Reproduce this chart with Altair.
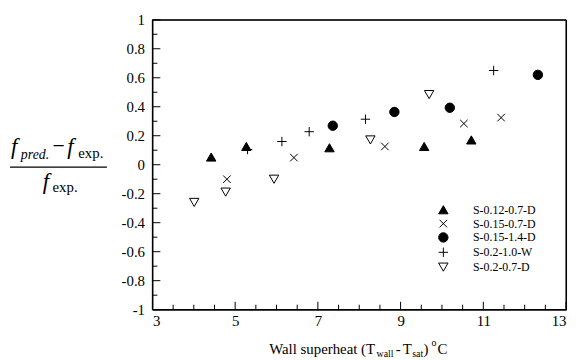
import altair as alt
import pandas as pd

# ---------------- data ----------------
series_names = ["S-0.12-0.7-D", "S-0.15-0.7-D", "S-0.15-1.4-D", "S-0.2-1.0-W", "S-0.2-0.7-D"]

s1_x = [4.42, 5.27, 7.28, 9.57, 10.71]
s1_y = [0.053, 0.126, 0.117, 0.126, 0.171]

s2_x = [4.80, 6.42, 8.62, 10.53, 11.43]
s2_y = [-0.100, 0.049, 0.126, 0.284, 0.325]

s3_x = [7.36, 8.85, 10.19, 12.32]
s3_y = [0.269, 0.364, 0.393, 0.620]

s4_x = [5.30, 6.13, 6.79, 8.15, 11.25]
s4_y = [0.105, 0.160, 0.228, 0.314, 0.650]

s5_x = [4.01, 4.77, 5.94, 8.27, 9.69]
s5_y = [-0.260, -0.189, -0.100, 0.171, 0.484]

x_labels = [3, 5, 7, 9, 11, 13]
x_minor = [3.5, 4, 4.5, 5.5, 6, 6.5, 7.5, 8, 8.5, 9.5, 10, 10.5, 11.5, 12, 12.5]
y_labels = [-1, -0.8, -0.6, -0.4, -0.2, 0, 0.2, 0.4, 0.6, 0.8, 1]
y_minor = [-0.9, -0.7, -0.5, -0.3, -0.1, 0.1, 0.3, 0.5, 0.7, 0.9]
x_edges = [3, 13]
y_edges = [-1, 1]

shapes = ["triangle-up", "M-0.8,-0.8L0.8,0.8M-0.8,0.8L0.8,-0.8", "circle",
          "M-1,0L1,0M0,-1L0,1", "triangle-down"]
fills = ["black", "transparent", "black", "transparent", "transparent"]
strokes = ["black"] * 5

rows = []
for name, xs, ys in zip(series_names, [s1_x, s2_x, s3_x, s4_x, s5_x],
                        [s1_y, s2_y, s3_y, s4_y, s5_y]):
    for a, b in zip(xs, ys):
        rows.append({"series": name, "x": a, "y": b})
df = pd.DataFrame(rows)

W, H = 418, 293
FONT = "Liberation Serif"

xscale = alt.Scale(domain=[3, 13], nice=False, zero=False)
yscale = alt.Scale(domain=[-1, 1], nice=False, zero=False)

xaxis = alt.Axis(values=x_labels, ticks=False, domain=False, grid=False,
                 labelFont=FONT, labelFontSize=15, labelColor="black",
                 labelPadding=4, title=None, format="d", labelOverlap=False)
yaxis = alt.Axis(values=y_labels, ticks=False, domain=False, grid=False,
                 labelFont=FONT, labelFontSize=15, labelColor="black",
                 labelPadding=8, title=None, labelOverlap=False,
                 labelExpr="toString(datum.value)")

legend = alt.Legend(
    title=None, orient="none", legendX=288, legendY=186, padding=0,
    labelFont=FONT, labelFontSize=12, labelColor="black", labelOffset=24,
    symbolSize=90, symbolStrokeColor="black", symbolStrokeWidth=1,
    rowPadding=1,
)

points = alt.Chart(df).mark_point(size=90, strokeWidth=1, opacity=1).encode(
    x=alt.X("x:Q", scale=xscale, axis=xaxis),
    y=alt.Y("y:Q", scale=yscale, axis=yaxis),
    shape=alt.Shape("series:N", scale=alt.Scale(domain=series_names, range=shapes),
                    legend=legend, sort=None),
    fill=alt.Fill("series:N", scale=alt.Scale(domain=series_names, range=fills),
                  legend=legend, sort=None),
    stroke=alt.Stroke("series:N", scale=alt.Scale(domain=series_names, range=strokes),
                      legend=legend, sort=None),
)

# inward ticks
xmaj = alt.Chart(pd.DataFrame({"v": x_labels})).mark_rule(color="black", strokeWidth=1).encode(
    x=alt.X("v:Q", scale=xscale, axis=xaxis), y=alt.value(H), y2=alt.value(H - 8))
xmin = alt.Chart(pd.DataFrame({"v": x_minor})).mark_rule(color="black", strokeWidth=1).encode(
    x=alt.X("v:Q", scale=xscale, axis=xaxis), y=alt.value(H), y2=alt.value(H - 5))
ymaj = alt.Chart(pd.DataFrame({"v": y_labels})).mark_rule(color="black", strokeWidth=1).encode(
    y=alt.Y("v:Q", scale=yscale, axis=yaxis), x=alt.value(0), x2=alt.value(8))
ymin = alt.Chart(pd.DataFrame({"v": y_minor})).mark_rule(color="black", strokeWidth=1).encode(
    y=alt.Y("v:Q", scale=yscale, axis=yaxis), x=alt.value(0), x2=alt.value(5))

# plot frame drawn through the scales, like the ticks
frame_v = alt.Chart(pd.DataFrame({"v": x_edges})).mark_rule(color="black", strokeWidth=1.2).encode(
    x=alt.X("v:Q", scale=xscale, axis=xaxis), y=alt.value(0.01), y2=alt.value(H))
frame_h = alt.Chart(pd.DataFrame({"w": y_edges})).mark_rule(color="black", strokeWidth=1.2).encode(
    y=alt.Y("w:Q", scale=yscale, axis=yaxis), x=alt.value(0.01), x2=alt.value(W))

OX, OY = 154, 18  # plot origin on page


def txt(s, ax, ay, size, style="normal", align="left"):
    return alt.Chart(pd.DataFrame({"t": [s]})).mark_text(
        font=FONT, fontSize=size, fontStyle=style, align=align,
        baseline="alphabetic", color="black"
    ).encode(x=alt.value(ax - OX), y=alt.value(ay - OY), text="t:N")


# x-axis title: Wall superheat (T_wall - T_sat) °C
xt = [
    txt("Wall superheat (T", 272, 356, 15),
    txt("wall", 380.5, 359, 10),
    txt("-", 400, 356, 15),
    txt("T", 407, 356, 15),
    txt("sat", 416.5, 359, 10),
    txt(")", 428, 356, 15),
    txt("o", 436, 348, 10),
    txt("C", 442, 356, 15),
]

# y-axis title: (f_pred. - f_exp.) / f_exp.
yt = [
    txt("f", 11, 154, 23, "italic"),
    txt("pred.", 21, 159, 14, "italic"),
    txt("\u2212", 53, 153, 22),
    txt("f", 68, 154, 23, "italic"),
    txt("exp.", 79, 158, 15),
    txt("f", 43, 189, 23, "italic"),
    txt("exp.", 53, 192, 15),
]
bar = alt.Chart(pd.DataFrame({"a": [0]})).mark_rule(color="black", strokeWidth=1.3).encode(
    x=alt.value(10 - OX), x2=alt.value(108 - OX), y=alt.value(167 - OY))

chart = alt.layer(points, xmaj, xmin, ymaj, ymin, frame_v, frame_h, bar, *xt, *yt).properties(
    width=W, height=H,
    background="white",
    autosize=alt.AutoSizeParams(type="none"),
    padding={"left": 146, "top": 10, "right": 3, "bottom": 52},
).configure_view(stroke="black", strokeWidth=1)

chart.save("out.html", embed_options={"renderer": "svg", "actions": False})
